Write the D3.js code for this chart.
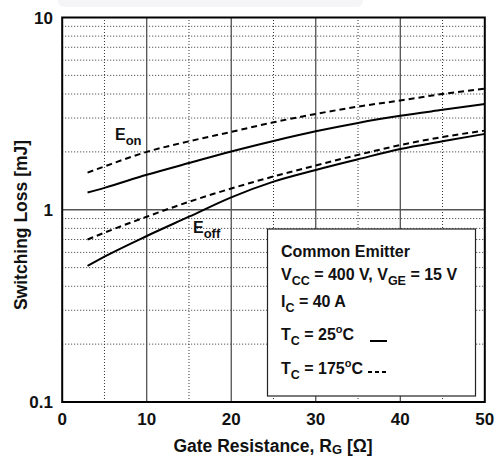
<!DOCTYPE html>
<meta charset="utf-8">
<style>
body { margin: 0; background: #fff; }
text {
  font-family: "Liberation Sans", Arial, sans-serif;
  font-weight: bold;
  fill: #111;
}
.curve { fill: none; stroke: #000; stroke-width: 2; }
</style>
<body>
<script src="https://cdn.jsdelivr.net/npm/d3@7"></script>
<script>

var width = 497,
    height = 457;

// gate resistance (ohm)
var rg = [3, 5, 10, 15, 20, 25, 30, 35, 40, 45, 50];

// switching loss (mJ)
var eon25  = [1.23, 1.30, 1.52, 1.75, 2.01, 2.28, 2.56, 2.83, 3.08, 3.31, 3.55];
var eon175 = [1.56, 1.68, 2.00, 2.27, 2.54, 2.85, 3.15, 3.44, 3.70, 4.00, 4.26];
var eoff25  = [0.51, 0.57, 0.73, 0.92, 1.16, 1.40, 1.61, 1.83, 2.07, 2.27, 2.48];
var eoff175 = [0.70, 0.76, 0.92, 1.10, 1.29, 1.49, 1.70, 1.93, 2.17, 2.39, 2.58];

var xTicks = [0, 10, 20, 30, 40, 50];
var yTicks = [0.1, 1, 10];

var series = [
  {name: "Eon 25", values: eon25, dash: null},
  {name: "Eon 175", values: eon175, dash: "6,4"},
  {name: "Eoff 25", values: eoff25, dash: null},
  {name: "Eoff 175", values: eoff175, dash: "6,4"}
];

var x = d3.scaleLinear().domain([0, 50]).range([62.2, 484.8]);
var y = d3.scaleLog().domain([0.1, 10]).range([402, 17.5]);

var svg = d3.select("body").append("svg")
    .attr("width", width)
    .attr("height", height);

// faint band at the very top of the scan
svg.append("rect")
    .attr("x", 58).attr("y", -6)
    .attr("width", 305).attr("height", 13)
    .attr("rx", 6)
    .attr("fill", "#f5f5f8");

var grid = svg.append("g");

// minor horizontal lines
var minorY = [];
[0.1, 1].forEach(function(dec) {
  d3.range(2, 10).forEach(function(k) { minorY.push(dec * k); });
});
grid.selectAll(".minor-y")
    .data(minorY)
  .enter().append("line")
    .attr("x1", x(0)).attr("x2", x(50))
    .attr("y1", function(d) { return y(d); })
    .attr("y2", function(d) { return y(d); })
    .attr("stroke", "#333")
    .attr("stroke-width", 1)
    .attr("stroke-dasharray", "1,2");

// minor vertical lines
grid.selectAll(".minor-x")
    .data(d3.range(5, 50, 10))
  .enter().append("line")
    .attr("y1", y(0.1)).attr("y2", y(10))
    .attr("x1", function(d) { return x(d); })
    .attr("x2", function(d) { return x(d); })
    .attr("stroke", "#333")
    .attr("stroke-width", 1)
    .attr("stroke-dasharray", "1,2");

// major grid
grid.selectAll(".major-x")
    .data([10, 20, 30, 40])
  .enter().append("line")
    .attr("y1", y(0.1)).attr("y2", y(10))
    .attr("x1", function(d) { return x(d); })
    .attr("x2", function(d) { return x(d); })
    .attr("stroke", "#444")
    .attr("stroke-width", 1.2);

grid.append("line")
    .attr("x1", x(0)).attr("x2", x(50))
    .attr("y1", y(1)).attr("y2", y(1))
    .attr("stroke", "#555")
    .attr("stroke-width", 1.5);

// curves
var line = d3.line()
    .x(function(d) { return x(d[0]); })
    .y(function(d) { return y(d[1]); })
    .curve(d3.curveMonotoneX);

svg.selectAll(".curve")
    .data(series)
  .enter().append("path")
    .attr("class", "curve")
    .attr("stroke-dasharray", function(d) { return d.dash; })
    .attr("d", function(d) {
      return line(d.values.map(function(v, i) { return [rg[i], v]; }));
    });

// frame
svg.append("rect")
    .attr("x", x(0)).attr("y", y(10))
    .attr("width", x(50) - x(0))
    .attr("height", y(0.1) - y(10))
    .attr("fill", "none")
    .attr("stroke", "#000")
    .attr("stroke-width", 2);

// tick labels
svg.selectAll(".xtick")
    .data(xTicks)
  .enter().append("text")
    .attr("x", function(d) { return x(d); })
    .attr("y", 425)
    .attr("text-anchor", "middle")
    .style("font-size", "17px")
    .text(function(d) { return d; });

svg.selectAll(".ytick")
    .data(yTicks)
  .enter().append("text")
    .attr("x", 53)
    .attr("y", function(d) { return y(d) + 6; })
    .attr("text-anchor", "end")
    .style("font-size", "17px")
    .text(function(d) { return d; });

// axis titles
var xt = svg.append("text")
    .attr("x", 273)
    .attr("y", 452)
    .attr("text-anchor", "middle")
    .style("font-size", "17.5px")
    .text("Gate Resistance, R");
xt.append("tspan").attr("dy", 2).style("font-size", "13px").text("G");
xt.append("tspan").attr("dy", -2).text(" [Ω]");

svg.append("text")
    .attr("transform", "translate(27,225) rotate(-90)")
    .attr("text-anchor", "middle")
    .style("font-size", "17.5px")
    .text("Switching Loss [mJ]");

// curve labels
function subLabel(px, py, main, sub) {
  var t = svg.append("text")
      .attr("x", px).attr("y", py)
      .style("font-size", "16px")
      .text(main);
  t.append("tspan").attr("dy", 5).style("font-size", "13px").text(sub);
}
subLabel(115, 140, "E", "on");
subLabel(193, 232.5, "E", "off");

// legend box
svg.append("rect")
    .attr("x", 267.5).attr("y", 229)
    .attr("width", 208).attr("height", 167)
    .attr("fill", "#fff")
    .attr("stroke", "#222")
    .attr("stroke-width", 1.2);

var lx = 281;
function legendLine(py, parts) {
  var t = svg.append("text")
      .attr("x", lx).attr("y", py)
      .style("font-size", "16px");
  parts.forEach(function(p) {
    t.append("tspan")
      .attr("dy", p[1])
      .style("font-size", p[2] || "16px")
      .text(p[0]);
  });
  return t;
}
legendLine(256.5, [["Common Emitter", 0]]);
legendLine(280, [["V", 0], ["CC", 5, "12.5px"], [" = 400 V, V", -5], ["GE", 5, "12.5px"], [" = 15 V", -5]]);
legendLine(306.5, [["I", 0], ["C", 5, "12.5px"], [" = 40 A", -5]]);
legendLine(340, [["T", 0], ["C", 5, "12.5px"], [" = 25", -5], ["o", -7, "11px"], ["C", 7]]);
legendLine(374, [["T", 0], ["C", 5, "12.5px"], [" = 175", -5], ["o", -7, "11px"], ["C", 7]]);

svg.append("line")
    .attr("x1", 370).attr("x2", 387)
    .attr("y1", 341).attr("y2", 341)
    .attr("stroke", "#000").attr("stroke-width", 2);
svg.append("line")
    .attr("x1", 368).attr("x2", 386)
    .attr("y1", 372).attr("y2", 372)
    .attr("stroke", "#000").attr("stroke-width", 2)
    .attr("stroke-dasharray", "4,3");

</script>
